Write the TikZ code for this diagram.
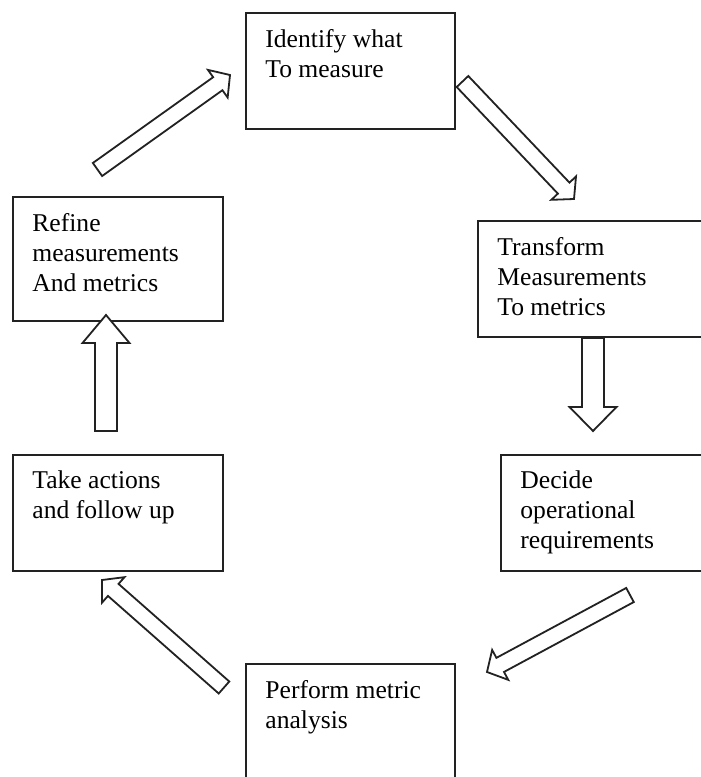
\documentclass[tikz,border=0pt]{standalone}
\usepackage{fontspec}
\setmainfont{Liberation Serif}
\definecolor{boxline}{RGB}{34,34,34}
\usetikzlibrary{calc}

% block arrow: tail, tip, half shaft, half head, head length
\newcommand{\blockarrow}[5]{%
  \coordinate (hb) at ($(#2)!#5!(#1)$);
  \draw[arrowline] ($(#1)!#3!90:(#2)$) -- ($(hb)!#3!90:(#2)$) -- ($(hb)!#4!90:(#2)$)
    -- (#2) -- ($(hb)!#4!-90:(#2)$) -- ($(hb)!#3!-90:(#2)$) -- ($(#1)!#3!-90:(#2)$) -- cycle;
}

\begin{document}
\begin{tikzpicture}[x=0.5pt, y=-0.5pt,
    cyclebox/.style={draw=boxline, line width=0.9pt, fill=white, anchor=north west, minimum height=58pt},
    lbl/.style={anchor=north west, align=left, inner sep=0pt, font=\fontsize{12.8}{15}\selectfont},
    arrowline/.style={draw=boxline, line width=0.9pt, fill=white}]
    \useasboundingbox (0,0) rectangle (701,777);

    % Cajas
    \node[cyclebox, minimum width=104.5pt] (ident) at (245,12) {};
    \node[cyclebox, minimum width=130pt] (trans) at (477,220) {};
    \node[cyclebox, minimum width=120pt] (decide) at (500,454) {};
    \node[cyclebox, minimum width=104.5pt, minimum height=75pt] (perform) at (245,663) {};
    \node[cyclebox, minimum width=105pt] (take) at (12,454) {};
    \node[cyclebox, minimum width=105pt, minimum height=62pt] (refine) at (12,196) {};

    % Textos
    \node[lbl] (ident-t) at ([shift={(10pt,-8.3pt)}]ident.north west) {Identify what\\To measure};
    \node[lbl] (trans-t) at ([shift={(10pt,-8.3pt)}]trans.north west) {Transform\\Measurements\\To metrics};
    \node[lbl] (decide-t) at ([shift={(10pt,-8.3pt)}]decide.north west) {Decide\\operational\\requirements};
    \node[lbl] (perform-t) at ([shift={(10pt,-8.3pt)}]perform.north west) {Perform metric\\analysis};
    \node[lbl] (take-t) at ([shift={(10pt,-8.3pt)}]take.north west) {Take actions\\and follow up};
    \node[lbl] (refine-t) at ([shift={(10pt,-8.3pt)}]refine.north west) {Refine\\measurements\\And metrics};

    % Extremos de las flechas
    \coordinate (t1) at (97.5,169.5);  \coordinate (h1) at (230,75);
    \coordinate (t2) at (462.5,81.5);  \coordinate (h2) at (574,199);
    \coordinate (t3) at (593,338);     \coordinate (h3) at (593,431);
    \coordinate (t4) at (630,595);     \coordinate (h4) at (487,672);
    \coordinate (t5) at (224,687.5);   \coordinate (h5) at (102,580);
    \coordinate (t6) at (106,431);     \coordinate (h6) at (106,315);

    % Flechas
    \foreach \ta/\tb/\sw/\hw/\hl in {t1/h1/4pt/8.5pt/7.5pt, t2/h2/4pt/8.5pt/7.5pt,
        t3/h3/5.5pt/11.75pt/12pt, t4/h4/4pt/8.5pt/7.5pt,
        t5/h5/4pt/8.5pt/7.5pt, t6/h6/5.5pt/11.75pt/14pt} {
        \blockarrow{\ta}{\tb}{\sw}{\hw}{\hl}
    }
\end{tikzpicture}
\end{document}
